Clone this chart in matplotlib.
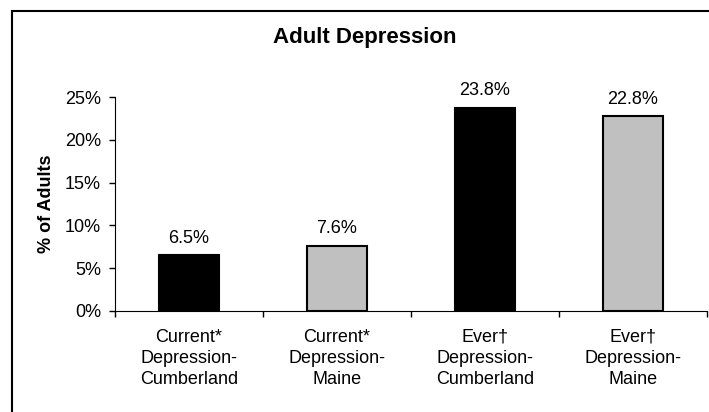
import matplotlib.pyplot as plt
from matplotlib.patches import Rectangle
from matplotlib.ticker import FuncFormatter

plt.rcParams['font.family'] = ['Liberation Sans', 'DejaVu Sans']

categories = ["Current*\nDepression-\nCumberland", "Current*\nDepression-\nMaine",
              "Ever\u2020\nDepression-\nCumberland", "Ever\u2020\nDepression-\nMaine"]
values = [6.5, 7.6, 23.8, 22.8]
value_labels = ["6.5%", "7.6%", "23.8%", "22.8%"]
bar_colors = ["black", "#C0C0C0", "black", "#C0C0C0"]
yticks = [0, 5, 10, 15, 20, 25]

fig = plt.figure(figsize=(7.09, 4.12), dpi=100)
ax = fig.add_axes([0.1622, 0.2459, 0.835, 0.518])

# outer frame, cut off at right and bottom like the source image
fig.patches.append(Rectangle((11.5 / 709, -0.1), 1.2, 1.1 - 11 / 412, transform=fig.transFigure,
                             fill=False, edgecolor="black", linewidth=1.5))

x = list(range(len(values)))
ax.bar(x, values, width=0.41, color=bar_colors, edgecolor="black", linewidth=1.5)
for xi, v, lab in zip(x, values, value_labels):
    ax.annotate(lab, (xi, v), xytext=(0, 9), textcoords="offset points",
                ha="center", va="baseline", fontsize=13)

ax.set_xlim(-0.5, 3.5)
ax.set_ylim(0, 25)
ax.set_yticks(yticks)
ax.yaxis.set_major_formatter(FuncFormatter(lambda v, p: f"{v:.0f}%"))
ax.tick_params(axis="y", labelsize=13, length=4, width=1, pad=6, direction="out")

ax.set_xticks([-0.5, 0.5, 1.5, 2.5, 3.5])
ax.set_xticklabels([])
ax.tick_params(axis="x", length=4, width=1, direction="out")
for xi, cat in zip(x, categories):
    ax.annotate(cat, (xi, 0), xycoords=("data", "axes fraction"), xytext=(0, -13),
                textcoords="offset points", ha="center", va="top", fontsize=13,
                linespacing=1.3)

for s in ["top", "right"]:
    ax.spines[s].set_visible(False)

ax.set_ylabel("% of Adults", fontsize=13, fontweight="bold", labelpad=7)
fig.text(365 / 709, 1 - 37 / 412, "Adult Depression", ha="center", va="center",
         fontsize=16, fontweight="bold")

fig.savefig("out.png", dpi=100, facecolor="white")
